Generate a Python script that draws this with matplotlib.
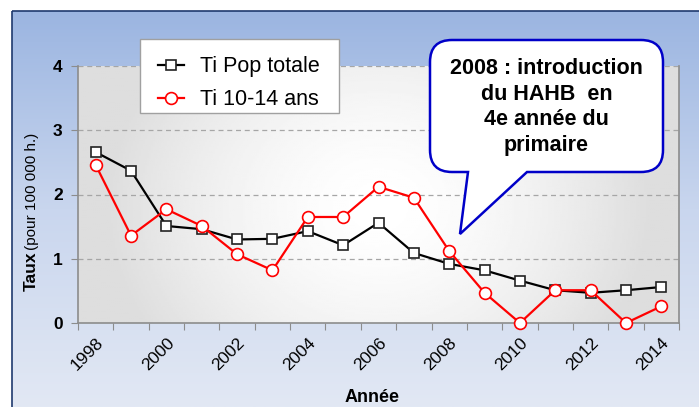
import numpy as np
import matplotlib.pyplot as plt
from matplotlib.path import Path
from matplotlib.patches import PathPatch, Rectangle
from matplotlib.colors import LinearSegmentedColormap

plt.rcParams['font.family'] = ['Liberation Sans', 'DejaVu Sans']

# Data
years = list(range(1998, 2015))
ti_pop_totale = [2.66, 2.37, 1.51, 1.46, 1.30, 1.31, 1.43, 1.21, 1.56,
                 1.09, 0.92, 0.82, 0.66, 0.51, 0.47, 0.51, 0.56]
ti_10_14 = [2.46, 1.36, 1.77, 1.51, 1.07, 0.82, 1.65, 1.65, 2.12,
            1.95, 1.12, 0.47, 0.0, 0.51, 0.51, 0.0, 0.26]
year_labels = [str(y) for y in years if y % 2 == 0]
callout_text = "2008 : introduction\ndu HAHB  en\n4e année du\nprimaire"

W, H = 699, 407
fig = plt.figure(figsize=(W / 100, H / 100), dpi=100)

# Background: blue vertical gradient inside a framed box
bg = fig.add_axes([0, 0, 1, 1], zorder=-10)
bg.set_xlim(0, W)
bg.set_ylim(H, 0)
bg.axis('off')
blue = LinearSegmentedColormap.from_list('bl', ['#9bb5e1', '#c9d6ee', '#e2e8f4'])
grad = np.linspace(0, 1, 256).reshape(-1, 1)
bg.imshow(grad, cmap=blue, extent=[12, W, H, 11], aspect='auto', zorder=0)
bg.add_patch(Rectangle((12, 11), W, H, fill=False, edgecolor='#1f3a6e', lw=1.2, zorder=1))

# Plot area
ax = fig.add_axes([78 / W, 1 - 323 / H, (679 - 78) / W, (323 - 66) / H])
xs = np.arange(len(years))
ax.set_xlim(-0.5, len(years) - 0.5)
ax.set_ylim(0, 4)

# Gray gradient in plot area (white in the middle, gray toward the edges)
gx, gy = np.meshgrid(np.linspace(0, 1, 300), np.linspace(0, 1, 150))
d = np.sqrt(((gx - 0.5) / 0.45) ** 2 + ((gy - 0.45) / 0.9) ** 2)
shade = 1 - 0.13 * np.clip(d, 0, 1) ** 1.6
ax.imshow(shade, cmap='gray', vmin=0, vmax=1, extent=[-0.5, len(years) - 0.5, 0, 4],
          aspect='auto', zorder=0, origin='lower')

for yv in [1, 2, 3, 4]:
    ax.axhline(yv, color='#a6a6a6', lw=0.9, ls=(0, (4, 3)), zorder=1)

ax.plot(xs, ti_pop_totale, color='black', lw=1.6, marker='s', markersize=7.5,
        markerfacecolor='white', markeredgecolor='#222222', markeredgewidth=1.2,
        label='Ti Pop totale', zorder=3)
ax.plot(xs, ti_10_14, color='#ff0000', lw=1.6, marker='o', markersize=8.5,
        markerfacecolor='white', markeredgecolor='#ff0000', markeredgewidth=1.2,
        label='Ti 10-14 ans', zorder=4, clip_on=False)

# Axes styling
for s in ['left', 'bottom', 'right']:
    ax.spines[s].set_color('#8c8c8c')
    ax.spines[s].set_linewidth(1.2)
ax.spines['top'].set_visible(False)

ax.set_yticks([0, 1, 2, 3, 4])
ax.set_yticklabels(['0', '1', '2', '3', '4'], fontsize=12.5, fontweight='bold')
ax.tick_params(axis='y', length=5, color='#8c8c8c', pad=6)

ax.set_xticks(np.arange(-0.5, len(years)))
ax.set_xticklabels([])
ax.tick_params(axis='x', which='major', length=5, color='#8c8c8c')
ax.set_xticks(xs[::2], minor=True)
ax.set_xticklabels(year_labels, minor=True, rotation=45, ha='right',
                   rotation_mode='anchor', fontsize=12.5)
ax.tick_params(axis='x', which='minor', length=0, pad=9)

ax.set_xlabel('Année', fontsize=13, fontweight='bold')
ax.xaxis.set_label_coords(0.49, -0.255)
fig.text(31 / W, 1 - 291 / H, 'Taux', rotation=90, fontsize=12.5, fontweight='bold',
         ha='center', va='bottom')
fig.text(32 / W, 1 - 250 / H, '(pour 100 000 h.)', rotation=90, fontsize=11,
         ha='center', va='bottom')

# Legend with a separately drawn frame
frame = Rectangle((140 / W, 1 - 113 / H), 199 / W, 74 / H, transform=fig.transFigure,
                  facecolor='white', edgecolor='#a0a0a0', lw=1.0, clip_on=False, zorder=5)
ax.add_patch(frame)
leg = ax.legend(loc='upper left', bbox_to_anchor=(141 / W, 1 - 39 / H),
                bbox_transform=fig.transFigure, fontsize=15.5, frameon=False,
                borderpad=0.3, handlelength=1.2, handletextpad=0.75, labelspacing=0.55)
leg.set_zorder(6)

# Callout bubble (pixel coordinates, top-left origin)
x0, x1, y0, y1, r = 430, 663, 40, 172, 22
tail = [(527, y1), (460, 234), (468, y1)]
verts = [(x0 + r, y0), (x1 - r, y0), (x1, y0), (x1, y0 + r), (x1, y1 - r), (x1, y1),
         (x1 - r, y1), tail[0], tail[1], tail[2], (x0 + r, y1), (x0, y1), (x0, y1 - r),
         (x0, y0 + r), (x0, y0), (x0 + r, y0), (x0 + r, y0)]
codes = [Path.MOVETO, Path.LINETO, Path.CURVE3, Path.CURVE3, Path.LINETO, Path.CURVE3,
         Path.CURVE3, Path.LINETO, Path.LINETO, Path.LINETO, Path.LINETO, Path.CURVE3,
         Path.CURVE3, Path.LINETO, Path.CURVE3, Path.CURVE3, Path.CLOSEPOLY]
verts = [(vx / W, 1 - vy / H) for vx, vy in verts]
bubble = PathPatch(Path(verts, codes), facecolor='white', edgecolor='#0000c8', lw=1.8,
                   transform=fig.transFigure, zorder=20)
fig.add_artist(bubble)
fig.text((x0 + x1) / 2 / W, 1 - 107 / H, callout_text, ha='center', va='center',
         fontsize=15.5, fontweight='bold', linespacing=1.3, zorder=21)

fig.savefig('out.png', dpi=100)
